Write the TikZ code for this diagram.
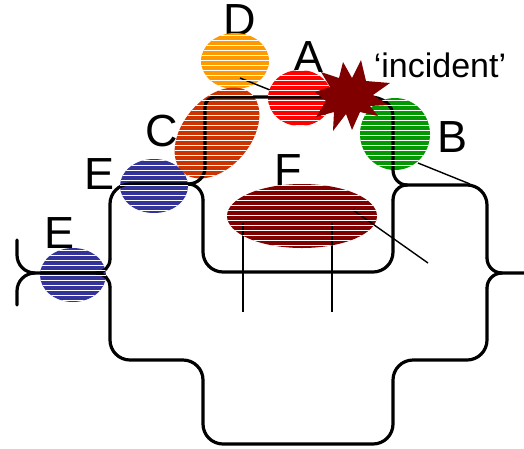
\documentclass[tikz,border=0pt]{standalone}
\usepackage{fontspec}
\setmainfont{Liberation Sans}
\usepackage{tikz}
\usetikzlibrary{shapes.geometric}
\tikzset{track/.style = {line width = 3.2pt, line cap = round}}
\tikzset{wire/.style = {line width = 1.4pt}}
\tikzset{blob/.style = {ellipse, inner sep = 0, outer sep = 0}}
\tikzset{stripe/.style = {white, line width = 1pt}}
\tikzset{lbl/.style = {font = \fontsize{45}{52}\selectfont, inner sep = 0, anchor = base}}
\definecolor{dorange}{RGB}{255, 153, 0}
\definecolor{rustred}{RGB}{204, 51, 0}
\definecolor{eblue}{RGB}{51, 51, 153}
\definecolor{bgreen}{RGB}{0, 153, 0}
\definecolor{fred}{RGB}{128, 0, 0}
\def\blobs{D/235/61/68/56/0/dorange, A/300/98/64/56/0/red, C/217/133/104/68/50/rustred,
           Eu/154/186/68/54/0/eblue, El/73/275/66/54/0/eblue, B/395/134/70/72/0/bgreen,
           F/302/216/150/64/0/fred}

\begin{document}
\begin{tikzpicture}[x = 1pt, y = -1pt]
      \useasboundingbox (0, 0) rectangle (524, 448);

      \node [lbl] (lD) at (240, 35) {D};
      \node [lbl] (lA) at (309, 72) {A};
      \node [lbl] (lB) at (452, 152) {B};
      \node [lbl] (lC) at (162, 146) {C};
      \node [lbl] (lEu) at (100, 189) {E};
      \node [lbl] (lEl) at (60, 248) {E};
      \node [lbl] (lF) at (288, 185) {F};
      \node [lbl, font = \fontsize{34}{40}\selectfont] (inc) at (440, 77) {‘incident’};

      \foreach \n/\x/\y/\w/\h/\r/\col in \blobs {
        \node [blob, fill = \col, minimum width = \w, minimum height = \h, rotate = \r] (\n) at (\x, \y) {};
      }

      % left brace, lower E
      \draw [track] (17, 240) -- (17, 255) to [out = -90, in = 180] (35, 273) -- (96, 273);
      \draw [track] (35, 273) to [out = 180, in = 90] (17, 291) -- (17, 305);

      % upper line through E, C, A, B
      \draw [track] (96, 273) to [out = 0, in = -90] (110, 259);
      \draw [track, rounded corners = 20] (110, 259) -- (110, 184) -- (188, 184);
      \draw [track] (188, 184) to [out = 0, in = -90] (205, 168);
      \draw [track, rounded corners = 10] (205, 168) -- (205, 97) -- (345, 97);
      \draw [track] (345, 97) -- (370, 97) to [out = 0, in = 90] (393, 116) -- (393, 170)
                    to [out = -90, in = 180] (407, 185);

      % middle loop under F
      \draw [track] (188, 184) to [out = 0, in = 90] (203, 200);
      \draw [track, rounded corners = 20] (203, 200) -- (203, 272) -- (393, 272) -- (393, 200);
      \draw [track] (393, 200) to [out = 90, in = 180] (407, 185);

      % right brace
      \draw [track, rounded corners = 20] (407, 185) -- (487, 185) -- (487, 258);
      \draw [track] (487, 258) to [out = -90, in = 180] (502, 273) -- (524, 273);
      \draw [track] (487, 288) to [out = 90, in = 180] (502, 273);

      % long lower loop
      \draw [track] (96, 273) to [out = 0, in = 90] (110, 287);
      \draw [track, rounded corners = 20] (110, 287) -- (110, 360) -- (203, 360) -- (203, 444)
                    -- (393, 444) -- (393, 360) -- (487, 360) -- (487, 288);

      \draw [wire] (240, 78) -- (270, 90);
      \draw [wire] (418, 163) -- (470, 184);
      \draw [wire] (243, 223) -- (243, 312);
      \draw [wire] (332, 223) -- (332, 312);
      \draw [wire] (353, 210) -- (428, 263);

      % white stripes over every ellipse
      \foreach \n/\x/\y/\w/\h/\r/\col in \blobs {
        \begin{scope}
          \clip [rotate around = {\r:(\x, \y)}] (\x, \y) ellipse [x radius = \w / 2, y radius = \h / 2];
          \foreach \s in {0, 5, ..., 300} {
            \draw [stripe] (0, \s) -- (524, \s);
          }
        \end{scope}
      }

      % the incident
      \fill [fred] (361, 60) -- (366, 81) -- (390, 83) -- (373, 95) -- (388, 105) -- (370, 106)
                   -- (378, 116) -- (360, 112) -- (352, 130) -- (346, 114) -- (333, 131)
                   -- (334, 112) -- (316, 117) -- (326, 101) -- (315, 92) -- (330, 87)
                   -- (321, 72) -- (339, 78) -- (343, 62) -- (352, 78) -- cycle;
\end{tikzpicture}
\end{document}
